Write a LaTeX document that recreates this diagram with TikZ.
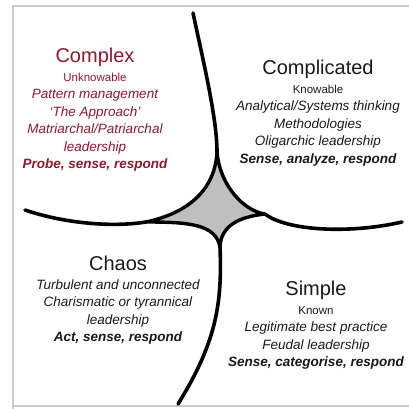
\documentclass[tikz,border=0pt]{standalone}
\usepackage{fontspec}
\setmainfont{Liberation Sans}
\usepackage{tikz}
\definecolor{complexred}{RGB}{140,25,45}
\definecolor{framegrey}{RGB}{205,198,208}
\definecolor{inkgrey}{RGB}{25,25,25}

\begin{document}
\begin{tikzpicture}[x=1pt, y=-1pt,
  quadrant/.style={align=center, inner sep=0pt, anchor=north, text=inkgrey,
    font=\fontsize{13.5}{17.5}\selectfont\itshape},
  divider/.style={line width=3.6pt, line cap=round},
  disorder/.style={fill=black!25, line width=3.4pt, line join=round}]
  \useasboundingbox (0,0) rectangle (409,409);
  \draw[framegrey, line width=1.2pt] (409,6) -- (13,6) -- (13,409);
  \draw[framegrey, line width=1.2pt] (13,406) -- (409,406);

  \coordinate (top) at (217,152);
  \coordinate (left) at (146,222);
  \coordinate (right) at (265,214);
  \coordinate (bottom) at (220,247);
  \coordinate (topend) at (193,13);
  \coordinate (leftend) at (25,210);
  \coordinate (rightend) at (402,222);
  \coordinate (bottomend) at (178,404);

  \draw[disorder] (top) .. controls (215,190) and (188,213) .. (left)
    .. controls (188,222) and (216,224) .. (bottom)
    .. controls (221,226) and (238,217) .. (right)
    .. controls (244,211) and (220,186) .. (top) -- cycle;
  \draw[divider] (topend) .. controls (203,60) and (217,118) .. (top);
  \draw[divider] (leftend) .. controls (60,222) and (108,228) .. (left);
  \draw[divider] (right) .. controls (287,231) and (350,234) .. (rightend);
  \draw[divider] (bottom) .. controls (222,300) and (218,340) .. (bottomend);

  \node (complex) at (95,48) [quadrant, text=complexred]
    {{\fontsize{20}{20}\selectfont\upshape Complex}\\[1pt]
     {\fontsize{11.5}{14}\selectfont\upshape Unknowable}\\
     Pattern management\\
     `The Approach'\\
     Matriarchal/Patriarchal\\
     leadership\\
     \textbf{Probe, sense, respond}};
  \node (complicated) at (318,60) [quadrant]
    {{\fontsize{20}{20}\selectfont\upshape Complicated}\\[1pt]
     {\fontsize{11.5}{14}\selectfont\upshape Knowable}\\
     Analytical/Systems thinking\\
     Methodologies\\
     Oligarchic leadership\\
     \textbf{Sense, analyze, respond}};
  \node (chaos) at (118,256) [quadrant]
    {{\fontsize{20}{20}\selectfont\upshape Chaos}\\[1pt]
     Turbulent and unconnected\\
     Charismatic or tyrannical\\
     leadership\\
     \textbf{Act, sense, respond}};
  \node (simple) at (316,281) [quadrant]
    {{\fontsize{20}{20}\selectfont\upshape Simple}\\[1pt]
     {\fontsize{11.5}{14}\selectfont\upshape Known}\\
     Legitimate best practice\\
     Feudal leadership\\
     \textbf{Sense, categorise, respond}};
\end{tikzpicture}
\end{document}
